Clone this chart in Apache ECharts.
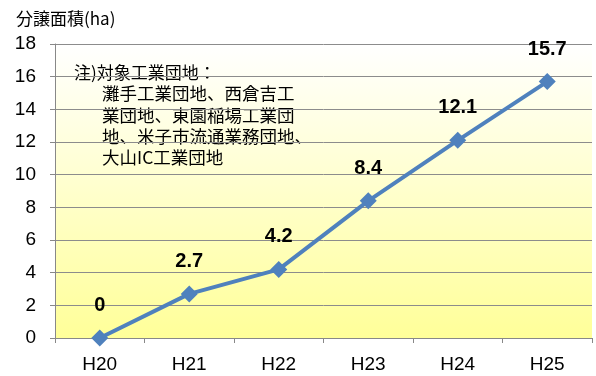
<!DOCTYPE html>
<html><head><meta charset="utf-8">
<script src="https://cdn.jsdelivr.net/npm/echarts@6/dist/echarts.min.js"></script>
<style>html,body{margin:0;padding:0;background:#fff}#c{width:596px;height:376px}</style>
</head><body><div id="c"></div>
<script>
const categories = ['H20','H21','H22','H23','H24','H25'];
const values = [0, 2.7, 4.2, 8.4, 12.1, 15.7];
const yTicks = [0,2,4,6,8,10,12,14,16,18];
const unitLabel = '分譲面積(ha)';
const noteHead = '注)対象工業団地：';
const noteLines = ['灘手工業団地、西倉吉工','業団地、東園稲場工業団','地、米子市流通業務団地、','大山IC工業団地'];

const chart = echarts.init(document.getElementById('c'));
const font = '"Liberation Sans", Arial, "Noto Sans CJK JP", sans-serif';
const cjk = '"Noto Sans CJK JP", sans-serif';
chart.setOption({
  animation:false,
  textStyle:{fontFamily:font},
  title:{text:unitLabel,left:11,top:5,textStyle:{fontSize:17,fontWeight:'normal',color:'#000',fontFamily:cjk}},
  grid:{left:55,right:4,top:44,bottom:38,show:true,borderWidth:0,
    backgroundColor:new echarts.graphic.LinearGradient(0,0,0,1,[{offset:0,color:'#FFFFFF'},{offset:1,color:'#FFFF99'}])},
  graphic:[
    {type:'text',left:74,top:62,style:{text:noteHead,fontSize:17,lineHeight:21,fill:'#000',fontFamily:cjk}},
    {type:'text',left:102,top:83,style:{text:noteLines.join('\n'),fontSize:17.5,lineHeight:21.3,fill:'#000',fontFamily:cjk}}
  ],
  xAxis:{type:'category',data:categories,boundaryGap:true,
    axisLine:{lineStyle:{color:'#888',width:1}},
    axisTick:{show:true,alignWithLabel:false,length:5,lineStyle:{color:'#888'}},
    axisLabel:{fontSize:19,color:'#000',margin:17,fontFamily:font},
    splitLine:{show:false}},
  yAxis:{type:'value',min:yTicks[0],max:yTicks[yTicks.length-1],interval:2,
    axisLine:{show:true,lineStyle:{color:'#888'}},
    axisTick:{show:true,length:5,lineStyle:{color:'#888'}},
    axisLabel:{fontSize:19,color:'#000',margin:19,fontFamily:font},
    splitLine:{lineStyle:{color:'#8c8c8c',width:1}}},
  series:[{type:'line',data:values,symbol:'diamond',symbolSize:17,
    lineStyle:{color:'#4F81BD',width:4},itemStyle:{color:'#4F81BD'},
    label:{show:true,position:'top',distance:14,fontSize:20,fontWeight:'bold',color:'#000',fontFamily:font}}]
});
</script></body></html>
